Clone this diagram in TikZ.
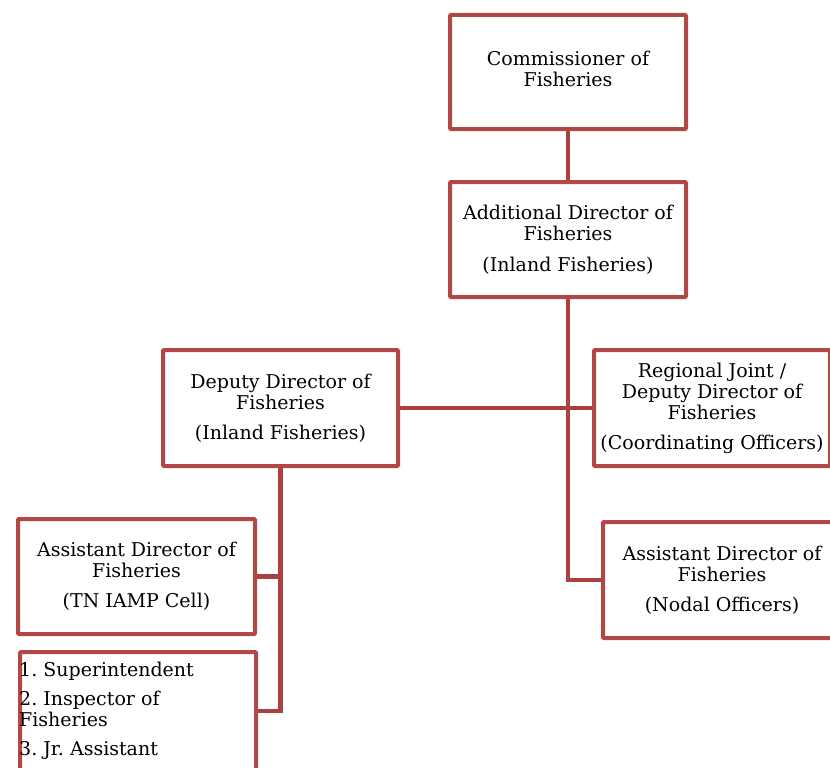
\documentclass[tikz,border=0pt]{standalone}
\usepackage{fontspec}
\setmainfont{DejaVu Serif}
\frenchspacing
\definecolor{boxred}{RGB}{178,72,70}
\definecolor{linkred}{RGB}{170,64,64}
\begin{document}
\begin{tikzpicture}[x=1pt,y=-1pt,
  orgbox/.style={draw=boxred,line width=4pt,rounded corners=1pt,fill=white,
    inner sep=0pt,align=center,
    font=\fontsize{19}{21}\selectfont},
  link/.style={draw=linkred,line width=4.5pt}]
\useasboundingbox (0,0) rectangle (830,768);
% boxes (centre, width, height)
\node[orgbox,minimum width=236pt,minimum height=114pt] (comm) at (568,72)
  {Commissioner of\\Fisheries\\[-15pt]\mbox{}};
\node[orgbox,minimum width=236pt,minimum height=115pt] (add) at (568,239.5)
  {Additional Director of\\Fisheries\\[10pt](Inland Fisheries)};
\node[orgbox,minimum width=235pt,minimum height=116pt] (dep) at (280.5,408)
  {Deputy Director of\\Fisheries\\[9pt](Inland Fisheries)};
\node[orgbox,minimum width=236pt,minimum height=116pt] (reg) at (712,408)
  {Regional Joint /\\Deputy Director of\\Fisheries\\[9pt](Coordinating Officers)};
\node[orgbox,minimum width=237pt,minimum height=115pt] (iamp) at (136.5,576.5)
  {Assistant Director of\\Fisheries\\[9pt](TN IAMP Cell)};
\node[orgbox,minimum width=236pt,minimum height=118pt] (list) at (138,711) {};
\node[anchor=west,inner sep=0pt,align=left,font=\fontsize{19}{21}\selectfont]
  (listtext) at (19,711)
  {1. Superintendent\\[8pt]2. Inspector of\\Fisheries\\[8pt]3. Jr. Assistant};
\node[orgbox,minimum width=238pt,minimum height=116pt] (nodal) at (722,580)
  {Assistant Director of\\Fisheries\\[9pt](Nodal Officers)};
% connectors
\path[link] (comm.south) -- (add.north);
\path[link] (add.south) |- (nodal.west);
\path[link] (dep.east) -- (reg.west);
\path[link] (dep.south) |- (list.east);
\path[link] (iamp.east) -| (dep.south);
\end{tikzpicture}
\end{document}
